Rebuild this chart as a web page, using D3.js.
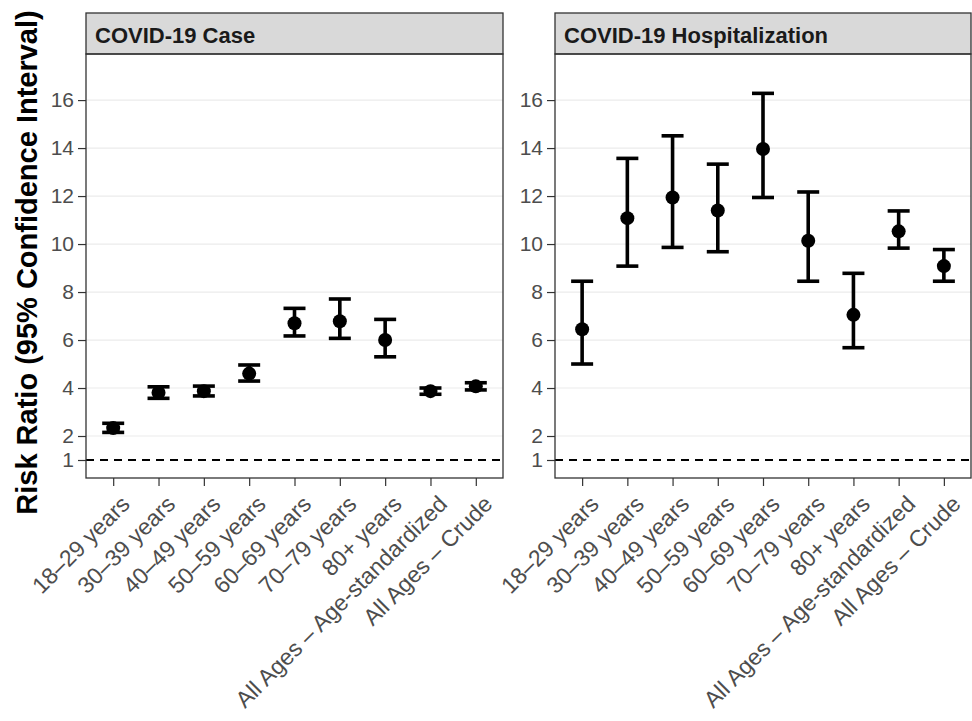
<!DOCTYPE html>
<html>
  <head>
    <meta charset="utf-8">
    <title>Risk ratios</title>
    <script src="https://d3js.org/d3.v7.min.js"></script>
    <style>
      body { margin: 0; background: #fff; }
      svg { font-family: "Liberation Sans", Arial, sans-serif; }
      .axis .domain { display: none; }
      .axis .tick line { stroke: #333; stroke-width: 1.2px; }
      .axis .tick text { fill: #4d4d4d; }
      .axis--y .tick text { font-size: 21px; }
      .axis--x .tick text { font-size: 23px; }
      .grid line { stroke: #ebebeb; stroke-width: 1.2px; }
      .strip rect { fill: #d9d9d9; stroke: #333; stroke-width: 1.3px; }
      .strip text { font-size: 22px; font-weight: bold; fill: #1a1a1a; }
      .axis__title { font-size: 29px; font-weight: bold; fill: #000; }
    </style>
  </head>
  <body>
    <svg width="972" height="721"></svg>
    <script>
      const categories = [
        "18–29 years", "30–39 years", "40–49 years", "50–59 years",
        "60–69 years", "70–79 years", "80+ years",
        "All Ages – Age-standardized", "All Ages – Crude"
      ];
      const panelTitles = ["COVID-19 Case", "COVID-19 Hospitalization"];

      const caseRR = [2.33, 3.80, 3.87, 4.60, 6.70, 6.78, 6.00, 3.87, 4.07];
      const caseLo = [2.15, 3.57, 3.67, 4.29, 6.17, 6.07, 5.30, 3.74, 3.92];
      const caseHi = [2.53, 4.05, 4.08, 4.96, 7.32, 7.71, 6.86, 4.00, 4.22];

      const hospRR = [6.45, 11.08, 11.94, 11.40, 13.96, 10.14, 7.05, 10.53, 9.08];
      const hospLo = [5.00, 9.08, 9.86, 9.68, 11.94, 8.45, 5.68, 9.83, 8.45];
      const hospHi = [8.45, 13.57, 14.51, 13.33, 16.28, 12.17, 8.78, 11.38, 9.77];

      const yTicks = [1, 2, 4, 6, 8, 10, 12, 14, 16];
      const yTitle = "Risk Ratio (95% Confidence Interval)";

      const series = [
        categories.map((c, i) => ({cat: c, rr: caseRR[i], lo: caseLo[i], hi: caseHi[i]})),
        categories.map((c, i) => ({cat: c, rr: hospRR[i], lo: hospLo[i], hi: hospHi[i]}))
      ];

      const svg = d3.select("svg");
      const stripTop = 13, stripH = 41;
      const panelTop = stripTop + stripH, panelBottom = 478;
      const panels = [{left: 86, right: 503}, {left: 555, right: 971}];
      const capHalf = 11;

      const y = d3.scaleLinear().domain([0.25, 17.92]).range([panelBottom, panelTop]);

      svg.append("text")
        .attr("class", "axis__title")
        .attr("transform", `translate(37, ${(stripTop + panelBottom) / 2 + 17}) rotate(-90)`)
        .attr("text-anchor", "middle")
        .text(yTitle);

      panels.forEach((p, k) => {
        const w = p.right - p.left;
        const x = d3.scalePoint().domain(categories).range([0, w]).padding(0.6);
        const g = svg.append("g").attr("transform", `translate(${p.left}, 0)`);

        // strip
        const strip = g.append("g").attr("class", "strip");
        strip.append("rect")
          .attr("x", 0).attr("y", stripTop)
          .attr("width", w).attr("height", stripH);
        strip.append("text")
          .attr("x", 9).attr("y", stripTop + 30)
          .text(panelTitles[k]);

        // grid
        g.append("g").attr("class", "grid")
          .selectAll("line").data(yTicks.filter(t => t !== 1))
          .enter().append("line")
            .attr("x1", 0).attr("x2", w)
            .attr("y1", d => y(d)).attr("y2", d => y(d));

        // reference line at 1
        g.append("line")
          .attr("x1", 0).attr("x2", w)
          .attr("y1", y(1)).attr("y2", y(1))
          .attr("stroke", "#000")
          .attr("stroke-width", 2)
          .attr("stroke-dasharray", "8,6");

        // error bars
        const eb = g.selectAll(".eb").data(series[k])
          .enter().append("g").attr("class", "eb")
            .attr("stroke", "#000").attr("stroke-width", 3.6);
        eb.append("line")
          .attr("x1", d => x(d.cat)).attr("x2", d => x(d.cat))
          .attr("y1", d => y(d.lo)).attr("y2", d => y(d.hi));
        eb.append("line")
          .attr("x1", d => x(d.cat) - capHalf).attr("x2", d => x(d.cat) + capHalf)
          .attr("y1", d => y(d.lo)).attr("y2", d => y(d.lo));
        eb.append("line")
          .attr("x1", d => x(d.cat) - capHalf).attr("x2", d => x(d.cat) + capHalf)
          .attr("y1", d => y(d.hi)).attr("y2", d => y(d.hi));

        g.selectAll("circle").data(series[k])
          .enter().append("circle")
            .attr("cx", d => x(d.cat))
            .attr("cy", d => y(d.rr))
            .attr("r", 7)
            .attr("fill", "#000");

        // panel border
        g.append("rect")
          .attr("x", 0).attr("y", panelTop)
          .attr("width", w).attr("height", panelBottom - panelTop)
          .attr("fill", "none")
          .attr("stroke", "#333")
          .attr("stroke-width", 1.3);

        // y axis
        g.append("g").attr("class", "axis axis--y")
          .call(d3.axisLeft(y).tickValues(yTicks).tickSize(8).tickPadding(4));

        // x axis
        const xAxisG = g.append("g").attr("class", "axis axis--x")
          .attr("transform", `translate(0, ${panelBottom})`)
          .call(d3.axisBottom(x).tickSize(8).tickPadding(0));
        xAxisG.selectAll(".tick text")
          .attr("text-anchor", "end")
          .attr("y", 0)
          .attr("transform", "translate(6, 16) rotate(-45)")
          .attr("dy", "0.71em");
      });
    </script>
  </body>
</html>
